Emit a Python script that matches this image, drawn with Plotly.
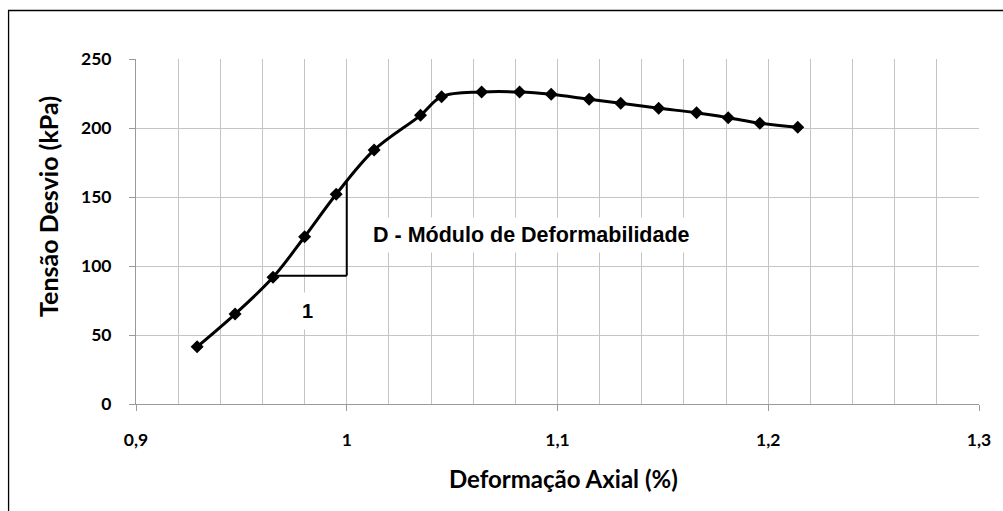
import plotly.graph_objects as go

# Stress-strain data: axial strain (%) vs deviator stress (kPa)
deformacao = [0.929, 0.947, 0.965, 0.980, 0.995, 1.013, 1.035, 1.045, 1.064,
              1.082, 1.097, 1.115, 1.130, 1.148, 1.166, 1.181, 1.196, 1.214]
tensao = [41.5, 65.2, 91.8, 121.2, 152.0, 184.1, 209.2, 222.7, 226.1,
          226.1, 224.4, 220.8, 217.9, 214.3, 211.1, 207.5, 203.4, 200.5]

x_ticks = [0.9, 1.0, 1.1, 1.2, 1.3]
x_tick_text = ["0,9", "1", "1,1", "1,2", "1,3"]
y_ticks = [0, 50, 100, 150, 200, 250]

# Slope triangle illustrating the deformability modulus
tri_x = [0.966, 1.0]
tri_y = [93, 161]

W, H = 1003, 511
M_L, M_R, M_T, M_B = 135.5, 20.7, 59, 107
PW, PH = W - M_L - M_R, H - M_T - M_B


def px_to_paper(px, py):
    return (px - M_L) / PW, (H - M_B - py) / PH


AXIS_FONT = "Lato, 'Liberation Sans', Arial, sans-serif"
NOTE_FONT = "'Liberation Sans', Arial, sans-serif"
GRID = "#c4c4c4"

fig = go.Figure()
fig.add_trace(go.Scatter(
    x=deformacao, y=tensao, mode="lines+markers",
    line=dict(color="black", width=3, shape="spline", smoothing=1.0),
    marker=dict(symbol="diamond", size=10, color="black"),
    showlegend=False, hoverinfo="skip",
))

# triangle legs
fig.add_shape(type="line", xref="x", yref="y", x0=tri_x[1], x1=tri_x[1],
              y0=tri_y[0], y1=tri_y[1], line=dict(color="black", width=2))
fig.add_shape(type="line", xref="x", yref="y", x0=tri_x[0], x1=tri_x[1],
              y0=tri_y[0], y1=tri_y[0], line=dict(color="black", width=2))

# outer chart border (right and bottom edges fall outside the canvas)
bx0, by0 = px_to_paper(7.5, 10.5)
bx1, by1 = px_to_paper(W + 20, H + 20)
fig.add_shape(type="rect", xref="paper", yref="paper", x0=bx0, y0=by1, x1=bx1, y1=by0,
              line=dict(color="black", width=1.3), layer="above")

annotations = [
    dict(x=1.0878, y=122.8, xref="x", yref="y", text="<b>D - Módulo de Deformabilidade</b>",
         showarrow=False, font=dict(family=NOTE_FONT, size=21.5, color="black"),
         bgcolor="white", borderpad=5),
    dict(x=0.9815, y=67.4, xref="x", yref="y", text="<b>1</b>",
         showarrow=False, font=dict(family=NOTE_FONT, size=20, color="black"),
         bgcolor="white", borderpad=7),
]
tx, ty = px_to_paper(47, 206)
annotations.append(dict(x=tx, y=ty, xref="paper", yref="paper",
                        text="<b>Tensão Desvio (kPa)</b>", textangle=-90, showarrow=False,
                        font=dict(family=AXIS_FONT, size=25, color="black"),
                        xanchor="center", yanchor="middle"))
tx, ty = px_to_paper(565, 478)
annotations.append(dict(x=tx, y=ty, xref="paper", yref="paper",
                        text="<b>Deformação Axial (%)</b>", showarrow=False,
                        font=dict(family=AXIS_FONT, size=24, color="black"),
                        xanchor="center", yanchor="middle"))

fig.update_layout(
    width=W, height=H,
    margin=dict(l=M_L, r=M_R, t=M_T, b=M_B, pad=0),
    paper_bgcolor="white", plot_bgcolor="white",
    separators=",.",
    annotations=annotations,
    xaxis=dict(
        range=[0.9, 1.3], tickvals=x_ticks, ticktext=x_tick_text,
        showgrid=True, gridcolor=GRID, gridwidth=1,
        minor=dict(dtick=0.02, tick0=0.9, showgrid=True, gridcolor=GRID, gridwidth=1, ticks=""),
        showline=True, linecolor="#9a9a9a", linewidth=1,
        ticks="outside", ticklen=6, tickcolor="#9a9a9a",
        tickfont=dict(family=AXIS_FONT, size=17.5, color="black", weight="bold"),
        ticklabelstandoff=14, zeroline=False,
    ),
    yaxis=dict(
        range=[0, 250], tickvals=y_ticks,
        showgrid=True, gridcolor=GRID, gridwidth=1,
        showline=True, linecolor="#9a9a9a", linewidth=1,
        ticks="outside", ticklen=6, tickcolor="#9a9a9a",
        tickfont=dict(family=AXIS_FONT, size=17.5, color="black", weight="bold"),
        ticklabelstandoff=14, zeroline=False,
    ),
)

fig.write_html("out.html")
